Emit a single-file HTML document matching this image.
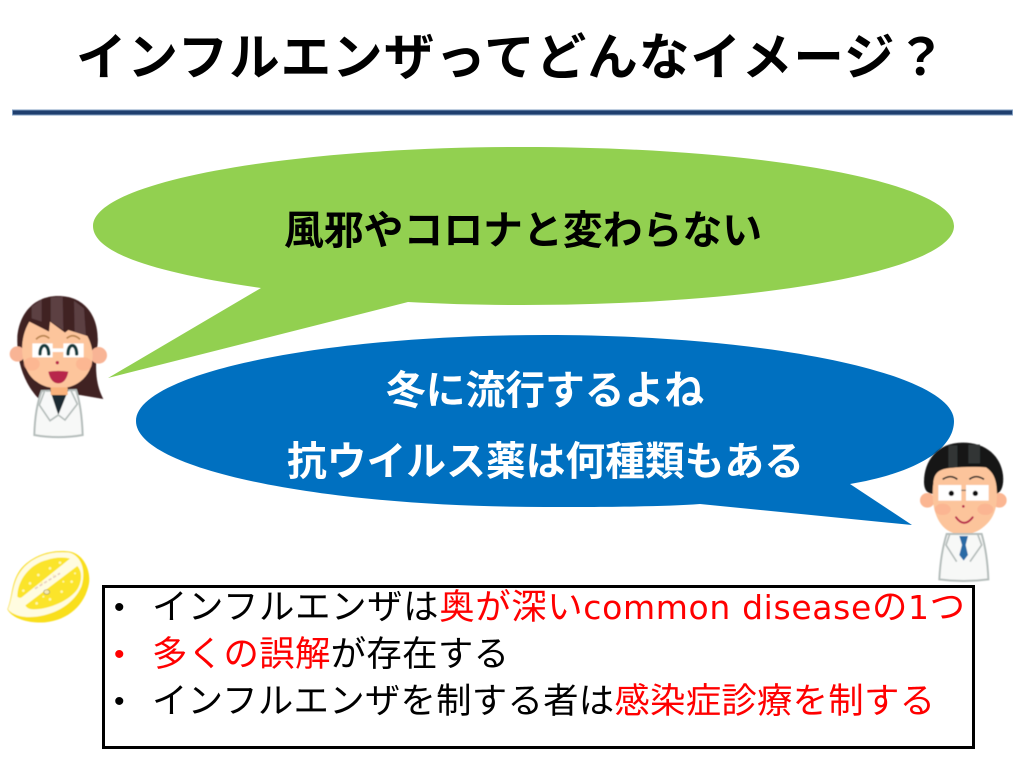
<!DOCTYPE html>
<html lang="ja">
<head>
<meta charset="utf-8">
<title>インフルエンザってどんなイメージ？</title>
<style>
html,body{margin:0;padding:0;background:#fff;width:1024px;height:768px;overflow:hidden}
svg{display:block}
text{font-family:"Liberation Sans","Noto Sans CJK JP",sans-serif}
.h{font-weight:700}
.b{font-size:35.4px;fill:#000}
.d{font-size:30px;fill:#000}
.r{fill:#f00}
.l{font-family:"DejaVu Sans","Liberation Sans",sans-serif}
</style>
</head>
<body>
<svg width="1024" height="768" viewBox="0 0 1024 768" xmlns="http://www.w3.org/2000/svg">
<defs><filter id="s" x="-5%" y="-5%" width="110%" height="110%"><feGaussianBlur stdDeviation="1.200"/></filter></defs>
<rect width="1024" height="768" fill="#fff"/>

<text class="h" x="76" y="75" font-size="50.500" textLength="870" lengthAdjust="spacing">インフルエンザってどんなイメージ？</text>
<rect x="12" y="109.500" width="1001" height="6" fill="#7f9dc0"/>
<rect x="13" y="110.500" width="999" height="4" fill="#1f3f6e"/>

<!-- green bubble -->
<path d="M108 378 L261 288 C150 272 93 252 93 226 C93 182 286 147 523 147 C761 147 954 182 954 226 C954 270 761 305 523 305 C480 305 445 304 408 302 Z" fill="#92d050"/>
<text class="h" x="284" y="244" font-size="39.800" textLength="478" lengthAdjust="spacing">風邪やコロナと変わらない</text>

<!-- blue bubble -->
<path d="M912 525 L700 504 C660 507 590 507 545 507 C319 507 136 469 136 421 C136 374 319 335 545 335 C771 335 954 374 954 421 C954 450 915 473 850 484 Z" fill="#0070c0"/>
<text class="h" x="386" y="404" font-size="39.800" fill="#fff" textLength="318" lengthAdjust="spacing">冬に流行するよね</text>
<text class="h" x="287" y="475" font-size="39.800" fill="#fff" textLength="517" lengthAdjust="spacing">抗ウイルス薬は何種類もある</text>

<!-- female doctor -->
<g transform="translate(0,280) scale(.33333)" filter="url(#s)">
<path d="M175 48 C95 48 55 110 52 175 C50 240 70 310 118 358 L240 345 L310 357 C285 310 285 260 293 190 C298 110 255 48 175 48 Z" fill="#3f2023"/>
<path d="M152 52 L188 50 L190 150 L152 125 Z M222 62 L252 85 L258 170 L224 158 Z M95 80 L125 58 L125 125 L95 115 Z" fill="#5b4143"/>
<circle cx="52" cy="222" r="23" fill="#f8b495"/>
<circle cx="296" cy="226" r="25" fill="#f8b495"/>
<path d="M88 125 L147 155 L150 125 L195 158 L205 150 L262 168 C290 220 280 275 240 305 C205 332 145 332 110 305 C65 275 50 190 88 125 Z" fill="#fdc59c"/>
<ellipse cx="95" cy="252" rx="24" ry="20" fill="#fbae8c" opacity=".6"/>
<ellipse cx="252" cy="252" rx="24" ry="20" fill="#fbae8c" opacity=".6"/>
<path d="M125 333 L228 330 Q245 380 248 465 Q175 478 103 465 Q105 385 125 333 Z" fill="#f7f8f7" stroke="#b5bdbb" stroke-width="6"/>
<path d="M150 330 L205 330 L175 405 Z" fill="#1f2b30"/>
<path d="M135 330 L118 375 L150 422 L175 405 M212 330 L232 372 L195 420 L175 405" fill="#f7f8f8" stroke="#b5bdbb" stroke-width="5"/>
<path d="M152 322 L203 322 L203 345 L152 345 Z" fill="#f9b27b"/>
<path d="M97 190 H158 V232 H97 Z M190 190 H251 V232 H190 Z M158 205 H190 V216 H158 Z" fill="#fff"/>
<path d="M120 222 C120 188 146 188 146 222 M204 222 C204 188 230 188 230 222" fill="none" stroke="#143a3d" stroke-width="10" stroke-linecap="round"/>
<path d="M108 178 Q128 158 148 175 M200 175 Q220 158 240 178" fill="none" stroke="#b98450" stroke-width="5"/>
<circle cx="172" cy="248" r="5" fill="#b8264c"/>
<path d="M145 275 Q175 270 205 275 Q198 310 175 310 Q152 310 145 275 Z" fill="#b8264c"/>
</g>

<!-- male doctor -->
<g transform="translate(900,430) scale(.33333)" filter="url(#s)">
<path d="M188 38 C110 38 72 95 72 155 C72 175 78 190 98 192 L290 192 C305 185 312 165 309 135 C302 80 260 38 188 38 Z" fill="#161717"/>
<path d="M145 46 H172 V112 H145 Z M205 44 H240 V100 H205 Z" fill="#333535"/>
<circle cx="82" cy="211" r="22" fill="#fbb692"/>
<circle cx="298" cy="211" r="22" fill="#fbb692"/>
<path d="M100 160 C102 130 115 118 150 114 C190 110 230 110 258 112 C278 125 288 145 290 175 C295 235 280 270 245 295 C210 320 165 320 135 295 C100 265 94 205 100 160 Z" fill="#fcc49b"/>
<ellipse cx="128" cy="238" rx="24" ry="17" fill="#f9a98a" opacity=".55"/>
<ellipse cx="256" cy="238" rx="24" ry="17" fill="#f9a98a" opacity=".55"/>
<path d="M140 312 L245 312 Q262 370 265 448 Q190 458 118 448 Q122 370 140 312 Z" fill="#f7f8f7" stroke="#b5bdbb" stroke-width="6"/>
<path d="M178 318 H204 L197 345 L204 375 L191 392 L178 375 L186 345 Z" fill="#2c6ba5"/>
<path d="M150 310 L138 345 L170 395 M232 310 L245 345 L210 395" fill="none" stroke="#b5bdbb" stroke-width="5"/>
<path d="M115 165 H184 V212 H115 Z M198 165 H266 V212 H198 Z" fill="#fff"/>
<path d="M184 181 H198" stroke="#555" stroke-width="3"/>
<circle cx="154" cy="190" r="8" fill="#111"/>
<circle cx="226" cy="190" r="8" fill="#111"/>
<path d="M128 148 Q152 132 172 148 M208 148 Q228 132 252 148" fill="none" stroke="#222" stroke-width="5"/>
<circle cx="190" cy="229" r="4" fill="#b8264c"/>
<path d="M168 262 Q192 295 218 262" fill="none" stroke="#b8264c" stroke-width="6" stroke-linecap="round"/>
</g>

<!-- lemon -->
<g transform="translate(0,540) scale(.33333)" filter="url(#s)">
<path d="M22 208 C38 170 32 130 60 90 C95 45 160 25 215 36 C255 48 272 95 267 130 C255 195 205 240 135 247 C95 250 40 240 22 208 Z" fill="#f9df1d"/>
<path d="M24 208 C40 170 36 130 62 94 C95 50 150 32 208 38 C248 48 258 100 244 140 C222 190 170 222 110 230 C75 234 40 228 24 208 Z" fill="#fffce0"/>
<path d="M52 170 C52 120 90 72 140 60 C165 52 190 50 210 56 L65 172 Q58 176 52 170 Z" fill="#fbe42a"/>
<path d="M76 196 L232 78 C248 95 246 125 232 148 C210 180 150 208 100 208 C88 208 80 204 76 196 Z" fill="#fbe42a"/>
<g fill="#fff8b0">
<circle cx="90" cy="130" r="4"/><circle cx="115" cy="105" r="4"/><circle cx="150" cy="85" r="4"/><circle cx="180" cy="68" r="4"/><circle cx="70" cy="152" r="4"/><circle cx="125" cy="128" r="4"/><circle cx="160" cy="105" r="3"/>
<circle cx="110" cy="190" r="4"/><circle cx="150" cy="178" r="4"/><circle cx="185" cy="155" r="4"/><circle cx="215" cy="125" r="4"/><circle cx="225" cy="100" r="3"/><circle cx="130" cy="170" r="3"/><circle cx="190" cy="125" r="3"/>
</g>
<path d="M105 146 L180 100" stroke="#e8cfc0" stroke-width="5" stroke-dasharray="10 6"/>
<ellipse cx="140" cy="156" rx="9" ry="7" fill="#f4e9b0" stroke="#9a8a50" stroke-width="2"/>
</g>

<!-- text box -->
<rect x="103.500" y="586.500" width="870" height="161" fill="#fff" stroke="#000" stroke-width="3"/>
<text class="d" x="114" y="617">•</text>
<text class="b" x="152" y="619" textLength="813" lengthAdjust="spacing">インフルエンザは<tspan class="r">奥が深い<tspan class="l" font-size="33">common disease</tspan>の<tspan class="l" font-size="33">1</tspan>つ</tspan></text>
<text class="d r" x="114" y="664">•</text>
<text class="b" x="152" y="666" textLength="357" lengthAdjust="spacing"><tspan class="r">多くの誤解</tspan>が存在する</text>
<text class="d" x="114" y="711">•</text>
<text class="b" x="152" y="713" textLength="783" lengthAdjust="spacing">インフルエンザを制する者は<tspan class="r">感染症診療を制する</tspan></text>
</svg>
</body>
</html>
